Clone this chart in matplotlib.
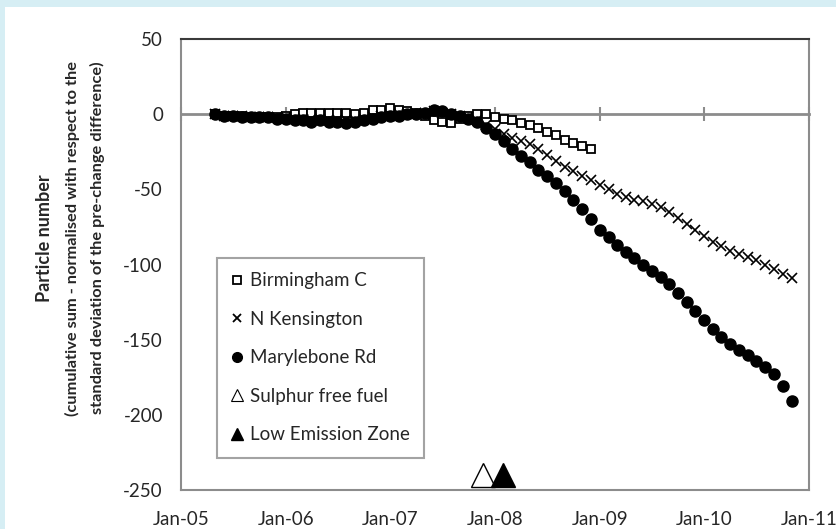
import pandas as pd
import matplotlib
matplotlib.use("Agg")
import matplotlib.pyplot as plt
import matplotlib.dates as mdates
from matplotlib.lines import Line2D
from matplotlib.patches import Rectangle

plt.rcParams["font.family"] = ["Lato", "DejaVu Sans"]
plt.rcParams["axes.unicode_minus"] = False

# monthly cumulative sums, first value is May 2005
start_month = "2005-05-01"

marylebone = [0, -1, -1, -2, -2, -2, -2, -3,
              -3, -4, -4, -5, -4, -5, -5, -6, -5, -4, -3, -2,
              -1, -1, 0, 0, 1, 3, 2, 0, -1, -3, -5, -9,
              -13, -18, -23, -28, -32, -37, -41, -46, -51, -57, -63, -70,
              -77, -82, -87, -92, -96, -100, -104, -108, -113, -119, -125, -131,
              -137, -143, -148, -153, -157, -160, -164, -168, -173, -181, -191]

kensington = [0, -1, -1, -1, -2, -2, -2, -2,
              -2, -3, -3, -3, -3, -4, -4, -4, -4, -3, -2, -1,
              -1, 0, 0, 1, 1, 2, 1, 0, -1, -2, -4, -7,
              -10, -13, -16, -18, -20, -23, -27, -31, -35, -38, -41, -44,
              -47, -50, -53, -55, -57, -58, -60, -62, -65, -69, -73, -77,
              -81, -85, -88, -91, -93, -95, -97, -100, -103, -106, -109]

birmingham = [0, -1, -1, -1, -2, -2, -2, -2,
              -1, 0, 1, 1, 1, 1, 1, 1, 0, 1, 3, 3,
              4, 3, 2, 1, -1, -4, -5, -6, -3, -1, 0, 0,
              -2, -3, -4, -6, -7, -9, -12, -14, -17, -19, -21, -23]

sulphur_free_date = "2007-11-20"
lez_date = "2008-01-28"
event_level = -240

tick_dates = ["2005-01-01", "2006-01-01", "2007-01-01", "2008-01-01",
              "2009-01-01", "2010-01-01", "2011-01-01"]
tick_labels = ["Jan-05", "Jan-06", "Jan-07", "Jan-08", "Jan-09", "Jan-10", "Jan-11"]
y_ticks = [-250, -200, -150, -100, -50, 0, 50]

grey = "#8c8c8c"
ink = "#262626"

fig = plt.figure(figsize=(8.36, 5.29), dpi=100, facecolor="#d6eef4")
fig.patches.append(Rectangle((5 / 836, 0), 1, 1 - 7 / 529, transform=fig.transFigure,
                             facecolor="white", edgecolor="none", zorder=-1))
ax = fig.add_axes([181 / 836, 1 - 490 / 529, 628 / 836, 451 / 529])
ax.set_zorder(2)

d_mar = pd.date_range(start_month, periods=len(marylebone), freq="MS")
d_ken = pd.date_range(start_month, periods=len(kensington), freq="MS")
d_bir = pd.date_range(start_month, periods=len(birmingham), freq="MS")

# series order: Birmingham, N Kensington, then Marylebone on top
ax.plot(d_bir, birmingham, ls="none", marker="s", ms=6, mew=1.3, mfc="white",
        mec="black", zorder=3)
ax.plot(d_ken, kensington, ls="none", marker="x", ms=7, mew=1.2, color="black", zorder=4)
ax.plot(d_mar, marylebone, ls="none", marker="o", ms=8, color="black", zorder=5)

ax.plot(pd.to_datetime([sulphur_free_date]), [event_level], ls="none", marker="^",
        ms=17, mfc="white", mec="black", mew=1.0, zorder=5, clip_on=False)
ax.plot(pd.to_datetime([lez_date]), [event_level], ls="none", marker="^",
        ms=17, mfc="black", mec="black", mew=1.0, zorder=6, clip_on=False)

ticks = mdates.date2num(pd.to_datetime(tick_dates))
ax.set_xlim(ticks[0], ticks[-1])
ax.set_ylim(-250, 50)

# main x axis sits on the zero line, tick marks only
ax.spines["bottom"].set_position(("data", 0))
ax.spines["bottom"].set_color(grey)
ax.spines["bottom"].set_linewidth(2)
ax.set_xticks(ticks)
ax.tick_params(axis="x", direction="inout", length=10, width=1.5, color=grey,
               labelbottom=False)

# date labels along the lower frame edge
sec = ax.secondary_xaxis("bottom")
sec.set_xticks(ticks)
sec.set_xticklabels(tick_labels)
sec.tick_params(length=0, pad=15, labelsize=13.5, labelcolor=ink)
sec.spines["bottom"].set_color(grey)
sec.spines["bottom"].set_linewidth(1.5)

ax.set_yticks(y_ticks)
ax.tick_params(axis="y", length=0, pad=13, labelsize=13.5, labelcolor=ink)
for side in ("left", "right"):
    ax.spines[side].set_color(grey)
    ax.spines[side].set_linewidth(1.5)
ax.spines["top"].set_color("#3a3a3a")
ax.spines["top"].set_linewidth(1.5)

handles = [
    Line2D([], [], ls="none", marker="s", ms=6, mew=1.3, mfc="white", mec="black"),
    Line2D([], [], ls="none", marker="x", ms=6, mew=1.3, color="black"),
    Line2D([], [], ls="none", marker="o", ms=7, color="black"),
    Line2D([], [], ls="none", marker="^", ms=9, mfc="white", mec="black", mew=0.8),
    Line2D([], [], ls="none", marker="^", ms=9, color="black"),
]
names = ["Birmingham C", "N Kensington", "Marylebone Rd", "Sulphur free fuel",
         "Low Emission Zone"]
leg = ax.legend(handles, names, loc="upper left", bbox_to_anchor=(0.057, 0.514),
                frameon=True, fancybox=False, fontsize=13.5, labelspacing=1.15,
                handlelength=0.7, handletextpad=0.3, borderpad=0.75,
                borderaxespad=0)
leg.get_frame().set_edgecolor(grey)
leg.get_frame().set_linewidth(1.5)
for t in leg.get_texts():
    t.set_color(ink)

ylab = ["Particle number",
        "(cumulative sum - normalised with respect to the",
        "standard deviation of the pre-change difference)"]
ylab_sizes = [13, 11.8, 11.8]
for x_px, line, size in zip([45, 72, 97], ylab, ylab_sizes):
    fig.text(x_px / 836, 1 - 238 / 529, line, rotation=90, ha="center", va="center",
             fontsize=size, fontweight="bold", color=ink)

fig.savefig("out.png", dpi=100, facecolor=fig.get_facecolor())
